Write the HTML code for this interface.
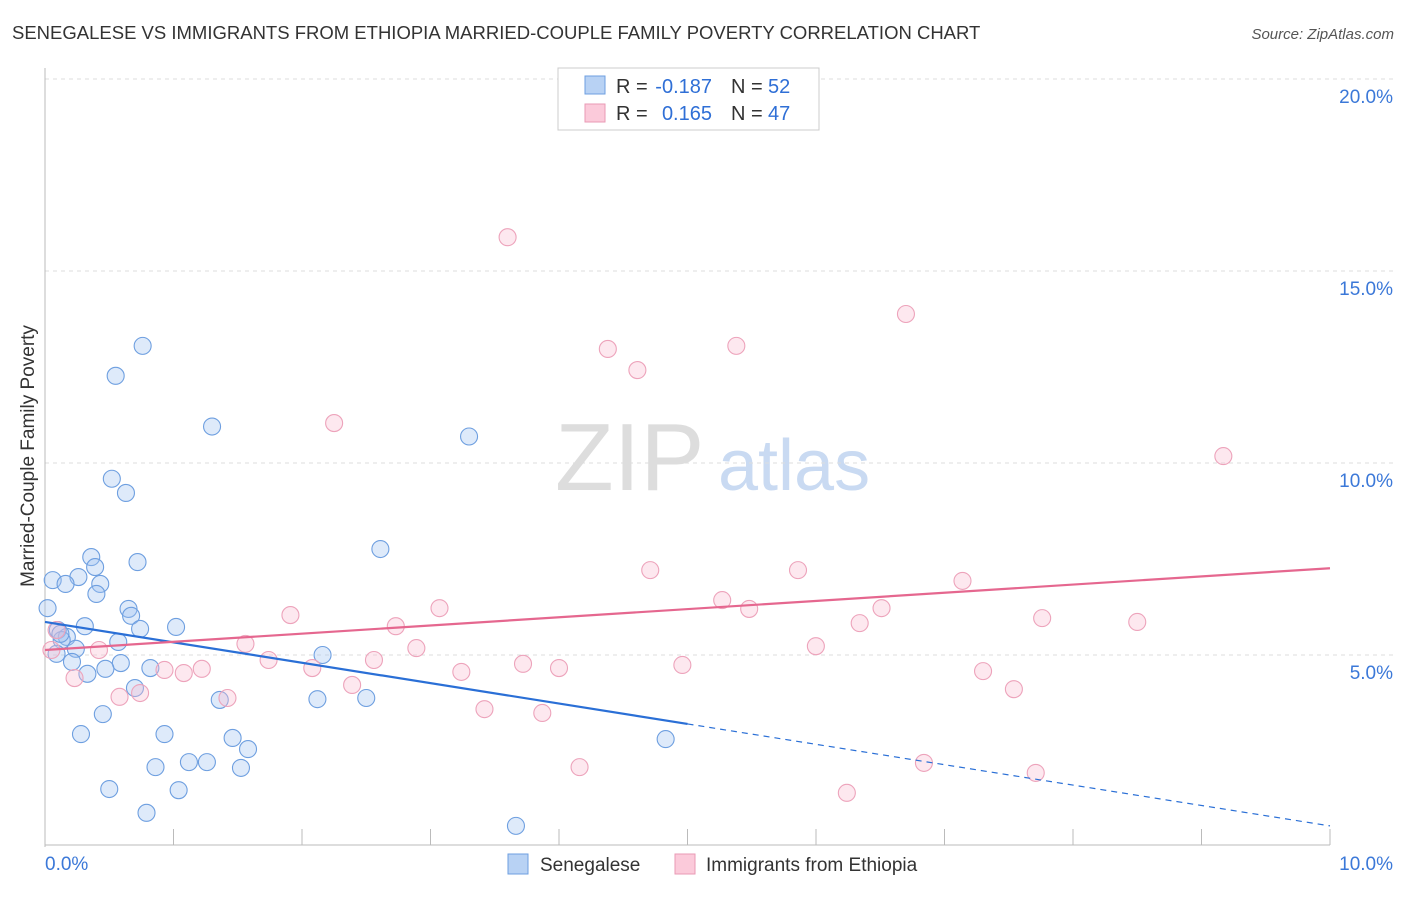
<!DOCTYPE html>
<html><head><meta charset="utf-8"><style>
body{margin:0;background:#fff;font-family:"Liberation Sans",sans-serif}
svg text{font-family:"Liberation Sans",sans-serif}
</style></head><body>
<svg id="c" width="1406" height="892">
<text x="12" y="39" font-size="18.5" fill="#333">SENEGALESE VS IMMIGRANTS FROM ETHIOPIA MARRIED-COUPLE FAMILY POVERTY CORRELATION CHART</text>
<text x="1394" y="39" font-size="15" fill="#555" text-anchor="end" font-style="italic">Source: ZipAtlas.com</text>
<text x="34" y="456" font-size="19" fill="#333" text-anchor="middle" transform="rotate(-90 34 456)">Married-Couple Family Poverty</text>
<text x="555" y="490" font-size="96" fill="#ddd" font-family="Liberation Serif">ZIP</text>
<text x="718" y="490" font-size="72" fill="#c9daf2">atlas</text>
<g id="grid"></g><g id="pts"></g><g id="lines"></g>
<g>
<rect x="558" y="68" width="261" height="62" fill="#fff" stroke="#ccc"/>
<rect x="585" y="76" width="20" height="18" fill="#b8d2f4" stroke="#6e9fe0"/>
<rect x="585" y="104" width="20" height="18" fill="#fbcada" stroke="#ea9ab4"/>
<text x="616" y="93" font-size="20" fill="#333">R =</text>
<text x="712" y="93" font-size="20" fill="#2f6fd6" text-anchor="end">-0.187</text>
<text x="731" y="93" font-size="20" fill="#333">N =</text>
<text x="768" y="93" font-size="20" fill="#2f6fd6">52</text>
<text x="616" y="120" font-size="20" fill="#333">R =</text>
<text x="712" y="120" font-size="20" fill="#2f6fd6" text-anchor="end">0.165</text>
<text x="731" y="120" font-size="20" fill="#333">N =</text>
<text x="768" y="120" font-size="20" fill="#2f6fd6">47</text>
</g>
<g>
<rect x="508" y="854" width="20" height="20" fill="#b8d2f4" stroke="#6e9fe0"/>
<text x="540" y="871" font-size="19" fill="#333">Senegalese</text>
<rect x="675" y="854" width="20" height="20" fill="#fbcada" stroke="#ea9ab4"/>
<text x="706" y="871" font-size="19" fill="#333">Immigrants from Ethiopia</text>
</g>
</svg>
<script>
const yTicks=[5,10,15,20];
const xTickLabels=["0.0%","10.0%"];
const blueX=[0.76,0.55,1.30,3.30,0.52,0.63,2.61,0.36,0.72,0.39,0.26,0.06,0.16,0.43,0.40,0.02,0.65,0.67,0.31,0.74,1.02,0.10,0.17,0.13,0.57,0.24,0.09,2.16,0.21,0.59,0.82,0.47,0.33,0.70,1.36,2.12,2.50,0.45,0.28,0.93,1.46,1.58,4.83,0.86,1.12,1.26,1.525,0.50,1.04,0.79,3.665,0.12];
const blueY=[13.05,12.27,10.95,10.69,9.59,9.22,7.76,7.55,7.42,7.29,7.03,6.95,6.85,6.85,6.59,6.22,6.20,6.02,5.75,5.68,5.73,5.65,5.47,5.39,5.34,5.16,5.03,5.00,4.82,4.79,4.66,4.64,4.51,4.14,3.83,3.85,3.88,3.46,2.94,2.94,2.84,2.55,2.81,2.08,2.21,2.21,2.06,1.51,1.48,0.89,0.55,5.55];
const pinkX=[3.60,6.70,4.38,5.38,4.61,2.25,9.17,4.71,5.86,7.14,5.27,5.48,3.07,1.91,6.51,6.34,7.76,8.50,2.73,1.56,0.09,5.999,2.89,0.42,0.05,1.74,2.56,3.72,4.00,4.96,2.08,0.93,1.22,1.08,3.24,7.30,0.23,2.39,1.42,0.58,0.74,7.54,3.42,3.87,4.16,6.84,7.71,6.24];
const pinkY=[15.88,13.88,12.97,13.05,12.42,11.04,10.18,7.21,7.21,6.93,6.43,6.20,6.22,6.04,6.22,5.83,5.96,5.86,5.75,5.29,5.65,5.23,5.18,5.13,5.13,4.87,4.87,4.77,4.66,4.74,4.66,4.61,4.64,4.53,4.56,4.58,4.40,4.22,3.88,3.91,4.01,4.11,3.59,3.49,2.08,2.19,1.93,1.41];
const blueTrend=[5.86,0.55], pinkTrend=[5.13,7.26];
const NS="http://www.w3.org/2000/svg";
const X=v=>45+v*128.5, Y=v=>847-v*38.4;
function mk(t,a,p){const e=document.createElementNS(NS,t);for(const k in a)e.setAttribute(k,a[k]);p.appendChild(e);return e;}
const g=document.getElementById('grid');
yTicks.forEach(t=>{
 const l=mk('line',{x1:45,x2:1394,y1:Y(t),y2:Y(t),stroke:'#ddd','stroke-dasharray':'4,4'},g);
 
 
 const tx=mk('text',{x:1393,y:Y(t)+24,'font-size':19,fill:'#3b78d8','text-anchor':'end'},g);
 tx.textContent=t.toFixed(1)+'%';
 
 
});
mk('line',{x1:45,x2:45,y1:68,y2:847,stroke:'#bbb'},g);
mk('line',{x1:45,x2:1330,y1:845,y2:845,stroke:'#bbb'},g);
for(let i=1;i<=10;i++){mk('line',{x1:X(i),x2:X(i),y1:829,y2:845,stroke:'#bbb'},g);}
xTickLabels.forEach((s,i)=>{
 const tx=mk('text',{x:i?1393:45,y:870,'font-size':19,fill:'#3b78d8','text-anchor':i?'end':'start'},g);
 tx.textContent=s;
 
 
});
const P=document.getElementById('pts');
blueX.forEach((x,i)=>{
 const c=mk('circle',{cx:X(x),cy:Y(blueY[i]),r:8.5,fill:'rgba(160,196,240,0.35)',stroke:'#6e9fe0','stroke-width':1.1},P);
 
 
});
pinkX.forEach((x,i)=>{
 const c=mk('circle',{cx:X(x),cy:Y(pinkY[i]),r:8.5,fill:'rgba(248,190,208,0.35)',stroke:'#eda3bb','stroke-width':1.1},P);
 
 
});
const L=document.getElementById('lines');
const bAt=v=>blueTrend[0]+(blueTrend[1]-blueTrend[0])*v/10;
const bl=mk('line',{x1:X(0),y1:Y(bAt(0)),x2:X(5),y2:Y(bAt(5)),stroke:'#2a6fd6','stroke-width':2.2},L);


const bd=mk('line',{x1:X(5),y1:Y(bAt(5)),x2:X(10),y2:Y(bAt(10)),stroke:'#2a6fd6','stroke-width':1.2,'stroke-dasharray':'6,5'},L);


const pl=mk('line',{x1:X(0),y1:Y(pinkTrend[0]),x2:X(10),y2:Y(pinkTrend[1]),stroke:'#e5678f','stroke-width':2.2},L);


</script>
</body></html>
